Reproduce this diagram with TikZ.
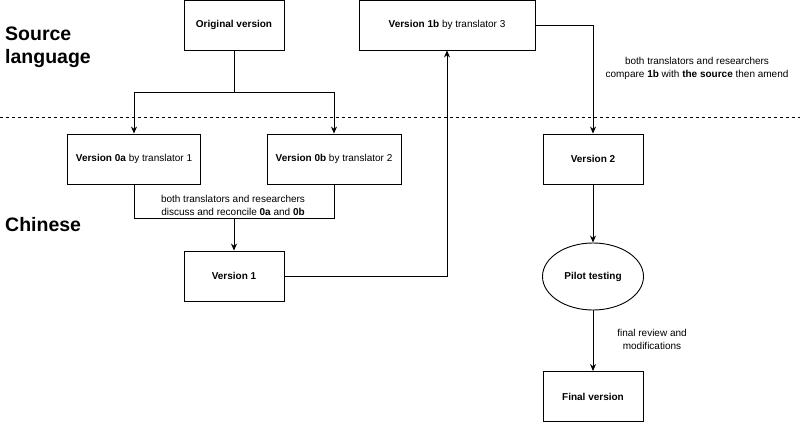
\documentclass[tikz,border=0pt]{standalone}
\usepackage{fontspec}
\setmainfont{Liberation Sans}
\usetikzlibrary{arrows.meta,shapes.geometric}
\begin{document}
\begin{tikzpicture}[x=1pt,y=-1pt,
  box/.style={draw, line width=0.9pt, minimum width=100pt, minimum height=50pt, inner sep=0pt, font=\fontsize{10}{12}\selectfont},
  oval/.style={draw, ellipse, line width=0.9pt, minimum width=101pt, minimum height=67pt, inner sep=0pt, font=\fontsize{10}{12}\selectfont},
  lbl/.style={align=center, inner sep=0pt, font=\fontsize{10}{13}\selectfont},
  head/.style={anchor=west, align=left, inner sep=0pt, font=\fontsize{19.5}{23}\selectfont\bfseries},
  conn/.style={line width=0.9pt},
  arr/.style={conn, -{Stealth[length=7pt,width=6pt]}}]
\useasboundingbox (0,0) rectangle (800,423);

\draw[line width=0.8pt, dash pattern=on 3pt off 3pt] (0,117) -- (800,117);

\node[head] (src) at (5,47) {Source\\language};
\node[head] (zh) at (5,225) {Chinese};

\node[box] (orig) at (234,25) {\textbf{Original version}};
\node[box, minimum width=176pt] (v1b) at (447,25) {\textbf{Version 1b} by translator 3};
\node[box, minimum width=133pt] (v0a) at (134,159) {\textbf{Version 0a} by translator 1};
\node[box, minimum width=134pt] (v0b) at (334,159) {\textbf{Version 0b} by translator 2};
\node[box] (v1) at (234,276) {\textbf{Version 1}};
\node[box] (v2) at (593,159) {\textbf{Version 2}};
\node[oval] (pilot) at (593,276.5) {\textbf{Pilot testing}};
\node[box] (final) at (593,396.5) {\textbf{Final version}};

\coordinate (split) at (234,92);
\draw[arr] (orig.south) -- (split) -| (v0a.north);
\draw[arr] (split) -| (v0b.north);

\coordinate (ml) at (134,218);
\coordinate (mr) at (334,218);
\coordinate (merge) at (234,218);
\draw[conn] (v0a.south) -- (ml) -- (mr) -- (v0b.south);
\draw[arr] (merge) -- (v1.north);
\node[lbl] (l1) at (233,205.5) {both translators and researchers\\discuss and reconcile \textbf{0a} and \textbf{0b}};

\draw[arr] (v1.east) -| (v1b.south);
\draw[arr] (v1b.east) -| (v2.north);
\node[lbl] (l2) at (697,68) {both translators and researchers\\compare \textbf{1b} with \textbf{the source} then amend};

\draw[arr] (v2.south) -- (pilot.north);
\draw[arr] (pilot.south) -- (final.north);
\node[lbl] (l3) at (652,339.5) {final review and\\modifications};
\end{tikzpicture}
\end{document}
